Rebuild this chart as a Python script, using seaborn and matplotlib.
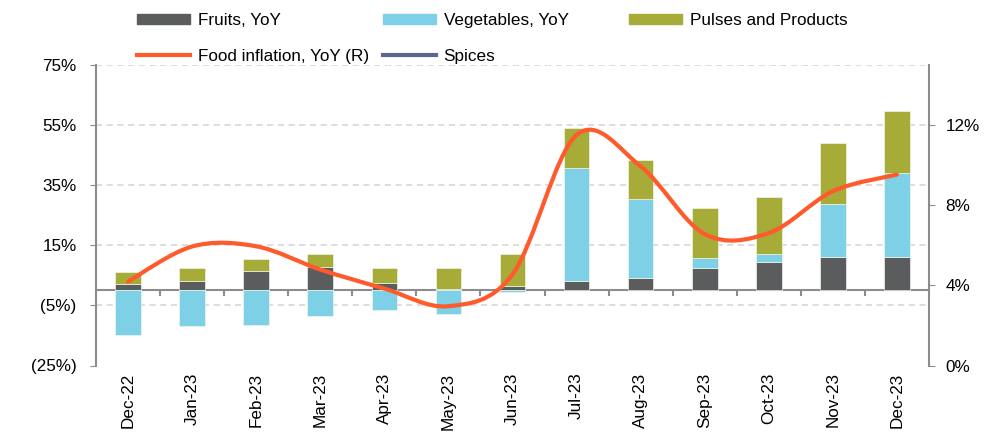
import numpy as np
import matplotlib
matplotlib.use("Agg")
import matplotlib.pyplot as plt
from matplotlib.path import Path
import matplotlib.patches as mpatches
from matplotlib.lines import Line2D
import seaborn as sns

months = ["Dec-22", "Jan-23", "Feb-23", "Mar-23", "Apr-23", "May-23", "Jun-23",
          "Jul-23", "Aug-23", "Sep-23", "Oct-23", "Nov-23", "Dec-23"]
fruits = [2.1, 3.0, 6.3, 7.8, 2.3, 0.6, 1.3, 3.1, 4.0, 7.3, 9.3, 11.0, 11.2]
vegetables = [-15.0, -11.7, -11.6, -8.4, -6.5, -7.8, -0.6, 37.6, 26.4, 3.6, 2.9, 17.9, 27.7]
pulses = [3.9, 4.4, 4.3, 4.3, 5.1, 6.7, 10.8, 13.3, 13.0, 16.4, 18.9, 20.3, 20.9]
food_infl = [4.19, 5.94, 5.95, 4.79, 3.84, 2.96, 4.55, 11.51, 9.94, 6.56, 6.61, 8.70, 9.53]
spices = [np.nan] * len(months)  # no visible values

left_ticks = [-25, -5, 15, 35, 55, 75]
left_labels = ["(25%)", "(5%)", "15%", "35%", "55%", "75%"]
right_ticks = [0, 4, 8, 12]
right_labels = ["0%", "4%", "8%", "12%"]

c_fruit = "#5b5c5e"
c_veg = "#7dd0e6"
c_pulse = "#a7ac38"
c_food = "#ff5a2b"
c_spice = "#5b6693"
c_axis = "#8c8c8c"

plt.rcParams["font.family"] = ["Liberation Sans", "DejaVu Sans"]
plt.rcParams["font.size"] = 12.3

fig = plt.figure(figsize=(10.02, 4.33), dpi=100)
ax = fig.add_axes([96 / 1002, 1 - 365.5 / 433, 833 / 1002, 300.5 / 433])

f = np.array(fruits)
v = np.array(vegetables)
p = np.array(pulses)
veg_bottom = np.where(v > 0, f, 0)
pulse_bottom = f + np.clip(v, 0, None)

bar_kw = dict(width=0.4, saturation=1, errorbar=None, edgecolor="#f0f4e8",
              linewidth=0.5, ax=ax)
sns.barplot(x=months, y=fruits, color=c_fruit, **bar_kw)
sns.barplot(x=months, y=vegetables, color=c_veg, bottom=veg_bottom, **bar_kw)
sns.barplot(x=months, y=pulses, color=c_pulse, bottom=pulse_bottom, **bar_kw)

ax.set_xlim(-0.5, len(months) - 0.5)
ax.set_ylim(-25, 75)
ax.set_yticks(left_ticks)
ax.set_yticklabels(left_labels)
ax.set_xlabel("")
ax.set_ylabel("")
ax.tick_params(axis="x", length=0, pad=5, rotation=90)
ax.tick_params(axis="y", direction="out", length=4, color=c_axis, pad=10)
for s in ["top", "bottom", "right"]:
    ax.spines[s].set_visible(False)
ax.spines["left"].set_color(c_axis)
ax.spines["left"].set_linewidth(1.5)
ax.yaxis.grid(True, linestyle=(0, (4, 3)), color="#d3d3d3", linewidth=1.1)
ax.get_ygridlines()[0].set_visible(False)
ax.set_axisbelow(True)

# zero line with category separators
zero_pos = (0 - left_ticks[0]) / (left_ticks[-1] - left_ticks[0])
sec = ax.secondary_xaxis(zero_pos)
sec.set_xticks(np.arange(0.5, len(months) - 1, 1))
sec.set_xticklabels([])
sec.tick_params(direction="out", length=4, color=c_axis, width=1.5)
sec.spines["bottom"].set_color(c_axis)
sec.spines["bottom"].set_linewidth(1.5)

# right axis: food inflation (smoothed like the source)
ax2 = ax.twinx()
ax2.set_ylim(0, 15)
ax2.set_yticks(right_ticks)
ax2.set_yticklabels(right_labels)
ax2.tick_params(axis="y", direction="out", length=4, color=c_axis, pad=8)
for s in ["top", "bottom", "left"]:
    ax2.spines[s].set_visible(False)
ax2.spines["right"].set_color(c_axis)
ax2.spines["right"].set_linewidth(1.5)

xs = np.arange(len(months), dtype=float)
ys = np.array(food_infl)
verts = [(xs[0], ys[0])]
codes = [Path.MOVETO]
n = len(xs)
for i in range(n - 1):
    p0 = np.array([xs[max(i - 1, 0)], ys[max(i - 1, 0)]])
    p1 = np.array([xs[i], ys[i]])
    p2 = np.array([xs[i + 1], ys[i + 1]])
    p3 = np.array([xs[min(i + 2, n - 1)], ys[min(i + 2, n - 1)]])
    c1 = p1 + (p2 - p0) / 6
    c2 = p2 - (p3 - p1) / 6
    verts += [tuple(c1), tuple(c2), tuple(p2)]
    codes += [Path.CURVE4] * 3
ax2.add_patch(mpatches.PathPatch(Path(verts, codes), facecolor="none",
                                 edgecolor=c_food, linewidth=3, capstyle="round",
                                 transform=ax2.transData))
ax2.plot(xs, spices, color=c_spice, linewidth=2.5)

# legend in three columns like the source
h_fruit = mpatches.Patch(color=c_fruit, label="Fruits, YoY")
h_veg = mpatches.Patch(color=c_veg, label="Vegetables, YoY")
h_pulse = mpatches.Patch(color=c_pulse, label="Pulses and Products")
h_food = Line2D([], [], color=c_food, linewidth=3, label="Food inflation, YoY (R)")
h_spice = Line2D([], [], color=c_spice, linewidth=3, label="Spices")
leg_kw = dict(loc="upper left", frameon=False, borderpad=0, borderaxespad=0,
              handlelength=3.1, handleheight=0.6, handletextpad=0.45,
              labelspacing=1.2)
for hs, x0 in [([h_fruit, h_food], 137), ([h_veg, h_spice], 383), ([h_pulse], 629)]:
    fig.legend(handles=hs, bbox_to_anchor=(x0 / 1002, 1 - 13 / 433), **leg_kw)

fig.savefig("out.png", dpi=100)
